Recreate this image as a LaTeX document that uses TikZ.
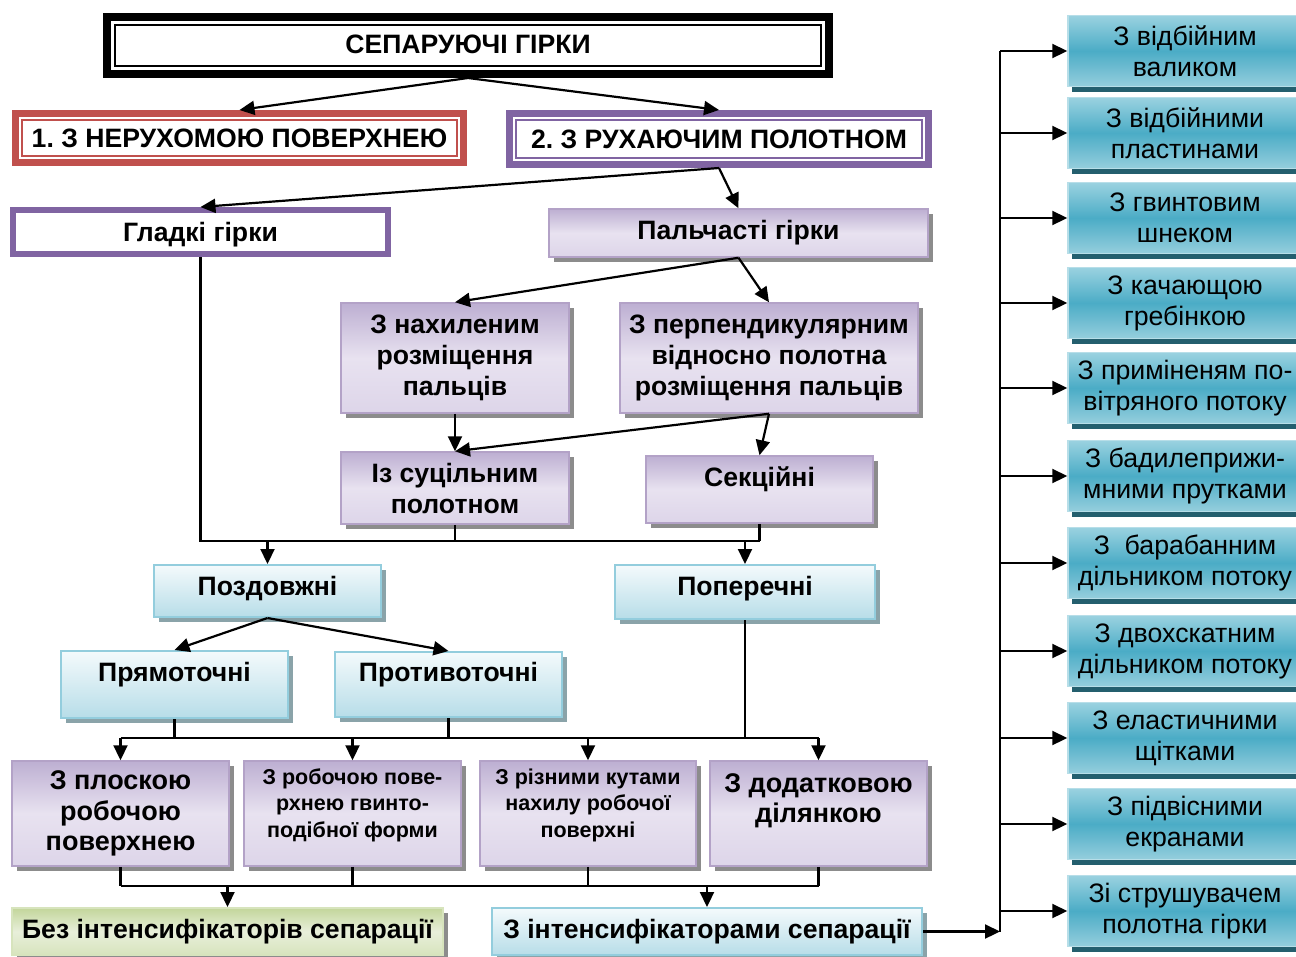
\documentclass[tikz,border=0pt]{standalone}
\usepackage{fontspec}
\setmainfont{Liberation Sans}
\usetikzlibrary{arrows.meta,shadows,calc}
\definecolor{redB}{HTML}{C0504D}
\definecolor{purB}{HTML}{8064A2}
\definecolor{lavTop}{HTML}{BDAFD2}
\definecolor{lavMid}{HTML}{E8E2F0}
\definecolor{lavBot}{HTML}{DDD5E9}
\definecolor{lavLine}{HTML}{B3A2C7}
\definecolor{bluTop}{HTML}{F4FAFC}
\definecolor{bluBot}{HTML}{B7DDE8}
\definecolor{bluLine}{HTML}{93CDDD}
\definecolor{grnTop}{HTML}{C3D69B}
\definecolor{grnMid}{HTML}{E8EFDA}
\definecolor{grnBot}{HTML}{D7E4BD}
\definecolor{grnLine}{HTML}{D7E4BD}
\definecolor{tealTop}{HTML}{9AD2E0}
\definecolor{tealMid}{HTML}{4BACC6}
\definecolor{tealBot}{HTML}{95CEDD}
\definecolor{tealLine}{HTML}{B7DEE8}
\definecolor{tealSh}{HTML}{245F6E}
\definecolor{grySh}{HTML}{8C8C8C}
\definecolor{bluSh}{HTML}{8AA3A9}
\newcommand\upt[2]{\raisebox{#1}[0pt][0pt]{#2}}
\frenchspacing
\begin{document}
\begin{tikzpicture}[x=1pt,y=-1pt,
  bf/.style={font=\bfseries\fontsize{26.6}{31}\selectfont},
  sz/.style 2 args={minimum width=#1, minimum height=#2},
  fr/.style={draw=#1, fill=white, inner sep=0pt, bf, align=center},
  inframe/.style={draw=#1, line width=1.5pt},
  pbox/.style={draw=lavLine, line width=1.5pt, top color=lavTop, bottom color=lavBot, middle color=lavMid,
    drop shadow={shadow xshift=5pt, shadow yshift=-5pt, fill=grySh, opacity=1},
    inner sep=0pt, bf, align=center},
  lbox/.style={draw=bluLine, line width=2pt, top color=bluTop, bottom color=bluBot,
    drop shadow={shadow xshift=5pt, shadow yshift=-5pt, fill=bluSh, opacity=1},
    inner sep=0pt, bf, align=center},
  gbox/.style={draw=grnLine, line width=2pt, top color=grnTop, bottom color=grnBot, middle color=grnMid,
    drop shadow={shadow xshift=5pt, shadow yshift=-5pt, fill=grySh, opacity=1},
    inner sep=0pt, bf, align=center},
  rbox/.style={draw=tealLine, line width=1.5pt, top color=tealTop, bottom color=tealBot, middle color=tealMid,
    drop shadow={shadow xshift=4pt, shadow yshift=-5pt, fill=tealSh, opacity=1},
    inner sep=0pt, minimum width=234, minimum height=71, align=center,
    font=\fontsize{26.7}{31}\selectfont},
  smallf/.style={font=\bfseries\fontsize{21.5}{26.5}\selectfont},
  bigf/.style={font=\bfseries\fontsize{27}{30.5}\selectfont},
  ln/.style={line width=2.2pt, draw=black},
  arr/.style={line width=2.2pt, draw=black, -{Triangle[length=15pt,width=14pt]}}
]
\useasboundingbox (0,0) rectangle (1296,956);
\clip (0,0) rectangle (1296,956);

% top level
\node[fr=black, line width=8pt, sz={722}{57}] (title) at (468,45.5) {\upt{-8pt}{СЕПАРУЮЧІ ГІРКИ}};
\draw[inframe=black, line width=2pt] ([shift={(12,12)}]title.north west) rectangle ([shift={(-12,-12)}]title.south east);

\node[fr=redB, line width=7pt, sz={448}{49}] (b1) at (239.5,138) {\upt{-9pt}{1. З НЕРУХОМОЮ ПОВЕРХНЕЮ}};
\draw[inframe=redB] ([shift={(10,10)}]b1.north west) rectangle ([shift={(-10,-10)}]b1.south east);

\node[fr=purB, line width=7pt, sz={419}{51}] (b2) at (719,139) {\upt{-9pt}{2. З РУХАЮЧИМ ПОЛОТНОМ}};
\draw[inframe=purB] ([shift={(10,10)}]b2.north west) rectangle ([shift={(-10,-10)}]b2.south east);

\node[fr=purB, line width=6pt, sz={375}{44}] (gl) at (200.5,232) {\upt{-9pt}{Гладкі гірки}};
\node[pbox, sz={379}{48}] (pal) at (738.5,233) {\upt{-6pt}{Пальчасті гірки}};

\node[pbox, sz={228}{110}] (nah) at (455,358) {З нахиленим\\розміщення\\пальців};
\node[pbox, sz={298}{110}] (per) at (769,358) {З перпендикулярним\\відносно полотна\\розміщення пальців};
\node[pbox, sz={228}{72}] (sut) at (455,488) {Із суцільним\\полотном};
\node[pbox, sz={227}{67}] (sek) at (759.5,489.5) {\upt{3.5pt}{Секційні}};

\node[lbox, sz={227}{52}] (pozd) at (267.5,591) {\upt{-4pt}{Поздовжні}};
\node[lbox, sz={260}{54}] (popr) at (745,592) {\upt{-3pt}{Поперечні}};
\node[lbox, sz={227}{67}] (pr) at (174.5,684.5) {\upt{3.5pt}{Прямоточні}};
\node[lbox, sz={227}{65}] (prt) at (448.5,684.5) {\upt{3.5pt}{Противоточні}};

\node[pbox, bigf, sz={217}{105}] (pl) at (120.5,813.5) {З плоскою\\робочою\\поверхнею};
\node[pbox, smallf, sz={217}{105}] (rob) at (352.5,813.5) {З робочою пове-\\рхнею гвинто-\\подібної форми\\[-5pt]\mbox{}};
\node[pbox, smallf, sz={216}{105}] (riz) at (588,813.5) {З різними кутами\\нахилу робочої\\поверхні\\[-5pt]\mbox{}};
\node[pbox, bigf, sz={217}{105}] (dod) at (818.5,813.5) {З додатковою\\ділянкою\\\mbox{}};

\node[gbox, sz={431}{47}] (bez) at (227.5,931.5) {\upt{-6.5pt}{Без інтенсифікаторів сепарації}};
\node[lbox, sz={430}{47}] (int) at (707,931.5) {\upt{-6.5pt}{З інтенсифікаторами сепарації}};

% right column
\node[rbox] (r1) at (1185,51) {З відбійним\\валиком};
\node[rbox] (r2) at (1185,133) {З відбійними\\пластинами};
\node[rbox] (r3) at (1185,218) {З гвинтовим\\шнеком};
\node[rbox] (r4) at (1185,303) {З качающою\\гребінкою};
\node[rbox] (r5) at (1185,388) {З приміненям по-\\вітряного потоку};
\node[rbox] (r6) at (1185,476) {З бадилеприжи-\\мними прутками};
\node[rbox] (r7) at (1185,563) {З\ \ барабанним\\дільником потоку};
\node[rbox] (r8) at (1185,651) {З двохскатним\\дільником потоку};
\node[rbox] (r9) at (1185,738) {З еластичними\\щітками};
\node[rbox] (r10) at (1185,824) {З підвісними\\екранами};
\node[rbox] (r11) at (1185,911) {Зі струшувачем\\полотна гірки};

% connectors
\draw[arr] (title.south) -- (b1.north);
\draw[arr] (title.south) -- (b2.north);
\draw[arr] (b2.south) -- (gl.north);
\draw[arr] (b2.south) -- (pal.north);
\draw[arr] (pal.south) -- (nah.north);
\draw[arr] (pal.south) -- (per.north);
\draw[arr] (nah.south) -- (sut.north);
\draw[arr] (per.south) -- (sut.north);
\draw[arr] (per.south) -- (sek.north);

\coordinate (j1) at (745,541);
\draw[ln] (gl.south) |- (sek.south |- j1);
\draw[ln] (sut.south) -- (sut.south |- j1);
\draw[ln] (sek.south) -- (sek.south |- j1);
\draw[arr] (pozd.north |- j1) -- (pozd.north);
\draw[arr] (j1) -- (popr.north);

\draw[arr] (pozd.south) -- (pr.north);
\draw[arr] (pozd.south) -- (prt.north);

\coordinate (j2) at (0,738);
\draw[ln] (pr.south) -- (pr.south |- j2);
\draw[ln] (prt.south) -- (prt.south |- j2);
\draw[ln] (popr.south) -- (popr.south |- j2);
\draw[ln] (pl.north |- j2) -- (dod.north |- j2);
\draw[arr] (pl.north |- j2) -- (pl.north);
\draw[arr] (rob.north |- j2) -- (rob.north);
\draw[arr] (riz.north |- j2) -- (riz.north);
\draw[arr] (dod.north |- j2) -- (dod.north);

\coordinate (j3) at (0,886);
\draw[ln] (pl.south) -- (pl.south |- j3);
\draw[ln] (rob.south) -- (rob.south |- j3);
\draw[ln] (riz.south) -- (riz.south |- j3);
\draw[ln] (dod.south) -- (dod.south |- j3);
\draw[ln] (pl.south |- j3) -- (dod.south |- j3);
\draw[arr] (bez.north |- j3) -- (bez.north);
\draw[arr] (int.north |- j3) -- (int.north);

\coordinate (vb) at (1000,931.5);
\draw[arr] (int.east) -- (vb);
\draw[ln] (vb) -- (vb |- r1.west);
\foreach \r in {r1,r2,r3,r4,r5,r6,r7,r8,r9,r10,r11}
  \draw[arr] (vb |- \r.west) -- (\r.west);
\end{tikzpicture}
\end{document}
